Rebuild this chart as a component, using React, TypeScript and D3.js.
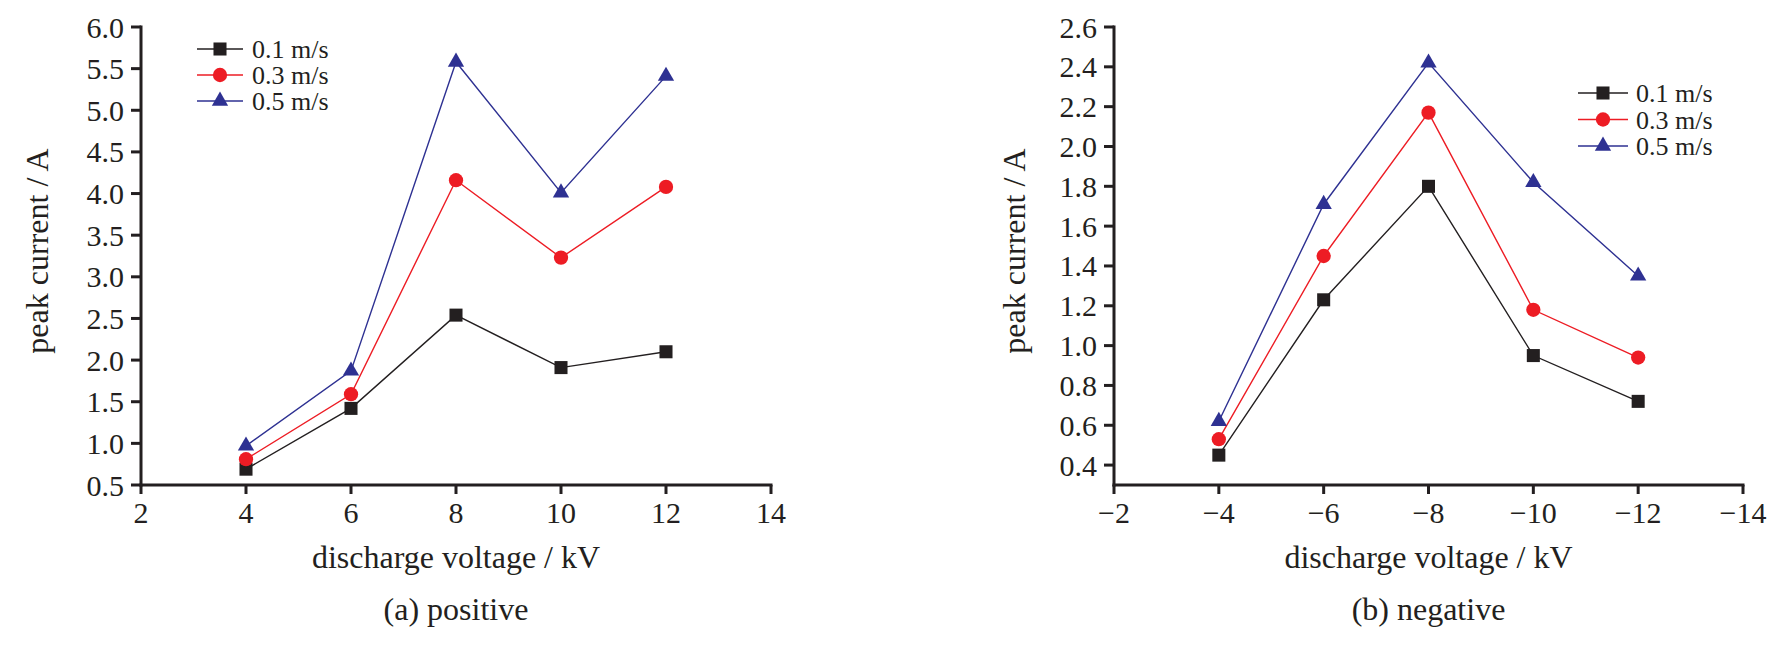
import * as d3 from 'd3'

// legend labels, one per speed
const speeds = ['0.1 m/s', '0.3 m/s', '0.5 m/s']
const colors = ['#231f20', '#ed1c24', '#2e3192']
const shapes = [d3.symbolSquare, d3.symbolCircle, d3.symbolTriangle]
const shapeSizes = [170, 160, 115]

// (a) positive
const posVoltage = [4, 6, 8, 10, 12]
const posPeak01 = [0.69, 1.42, 2.54, 1.91, 2.1]
const posPeak03 = [0.81, 1.59, 4.16, 3.23, 4.08]
const posPeak05 = [0.97, 1.87, 5.58, 4.01, 5.41]
const posXTicks = [2, 4, 6, 8, 10, 12, 14]
const posYTicks = [0.5, 1, 1.5, 2, 2.5, 3, 3.5, 4, 4.5, 5, 5.5, 6]

// (b) negative
const negVoltage = [-4, -6, -8, -10, -12]
const negPeak01 = [0.45, 1.23, 1.8, 0.95, 0.72]
const negPeak03 = [0.53, 1.45, 2.17, 1.18, 0.94]
const negPeak05 = [0.62, 1.71, 2.42, 1.82, 1.35]
const negXTicks = [-2, -4, -6, -8, -10, -12, -14]
const negYTicks = [0.4, 0.6, 0.8, 1, 1.2, 1.4, 1.6, 1.8, 2, 2.2, 2.4, 2.6]

const FONT = '"Liberation Serif", "Times New Roman", serif'
const TXT = '#231f20'

interface PanelProps {
  left: number
  right: number
  xDomain: [number, number]
  yDomain: [number, number]
  xTicks: number[]
  yTicks: number[]
  voltage: number[]
  series: number[][]
  caption: string
  titleOffset: number
  legend: { x0: number; x1: number; tx: number; y0: number; dy: number }
}

const fmtX = (v: number) => (v < 0 ? '\u2212' + Math.abs(v) : String(v))

function Panel({ left, right, xDomain, yDomain, xTicks, yTicks, voltage, series, caption, titleOffset, legend }: PanelProps) {
  const top = 27
  const bottom = 485
  const x = d3.scaleLinear().domain(xDomain).range([left, right])
  const y = d3.scaleLinear().domain(yDomain).range([bottom, top])
  const line = d3.line<number>().x((_, i) => x(voltage[i])).y(d => y(d))
  const cx = (left + right) / 2

  return (
    <g>
      {/* series lines + markers */}
      {series.map((vals, s) => (
        <g key={s}>
          <path d={line(vals) || ''} fill="none" stroke={colors[s]} strokeWidth={1.4} />
          {vals.map((v, i) => (
            <path
              key={i}
              transform={`translate(${x(voltage[i])},${y(v)})`}
              d={d3.symbol(shapes[s], shapeSizes[s])() || ''}
              fill={colors[s]}
            />
          ))}
        </g>
      ))}

      {/* axes */}
      <line x1={left} x2={left} y1={top - 1.5} y2={bottom + 1.5} stroke={TXT} strokeWidth={3} />
      <line x1={left - 1.5} x2={right + 1.5} y1={bottom} y2={bottom} stroke={TXT} strokeWidth={3} />
      {yTicks.map(t => (
        <g key={t}>
          <line x1={left - 10} x2={left} y1={y(t)} y2={y(t)} stroke={TXT} strokeWidth={3} />
          <text x={left - 17} y={y(t)} dy="0.35em" textAnchor="end" fontSize={30} fill={TXT}>
            {t.toFixed(1)}
          </text>
        </g>
      ))}
      {xTicks.map(t => (
        <g key={t}>
          <line x1={x(t)} x2={x(t)} y1={bottom} y2={bottom + 9} stroke={TXT} strokeWidth={3} />
          <text x={x(t)} y={523} textAnchor="middle" fontSize={30} fill={TXT}>
            {fmtX(t)}
          </text>
        </g>
      ))}

      <text x={cx} y={568} textAnchor="middle" fontSize={32} fill={TXT}>
        discharge voltage / kV
      </text>
      <text x={cx} y={620} textAnchor="middle" fontSize={32} fill={TXT}>
        {caption}
      </text>
      <text
        transform={`translate(${left - titleOffset},251) rotate(-90)`}
        textAnchor="middle"
        dy="0.35em"
        fontSize={32}
        fill={TXT}
      >
        peak current / A
      </text>

      {/* legend */}
      {speeds.map((name, s) => {
        const ly = legend.y0 + s * legend.dy
        return (
          <g key={name}>
            <line x1={legend.x0} x2={legend.x1} y1={ly} y2={ly} stroke={colors[s]} strokeWidth={1.4} />
            <path
              transform={`translate(${(legend.x0 + legend.x1) / 2},${ly})`}
              d={d3.symbol(shapes[s], shapeSizes[s])() || ''}
              fill={colors[s]}
            />
            <text x={legend.tx} y={ly} dy="0.35em" fontSize={26} fill={TXT}>
              {name}
            </text>
          </g>
        )
      })}
    </g>
  )
}

export default function App() {
  return (
    <svg
      width={1779}
      height={646}
      style={{ position: 'absolute', left: 0, top: 0, background: '#fff', fontFamily: FONT }}
    >
      <rect width={1779} height={646} fill="#fff" />
      <Panel
        left={141}
        right={771}
        xDomain={[2, 14]}
        yDomain={[0.5, 6]}
        xTicks={posXTicks}
        yTicks={posYTicks}
        voltage={posVoltage}
        series={[posPeak01, posPeak03, posPeak05]}
        caption="(a) positive"
        titleOffset={104}
        legend={{ x0: 197, x1: 243, tx: 252, y0: 49, dy: 26 }}
      />
      <Panel
        left={1114}
        right={1743}
        xDomain={[-2, -14]}
        yDomain={[0.3, 2.6]}
        xTicks={negXTicks}
        yTicks={negYTicks}
        voltage={negVoltage}
        series={[negPeak01, negPeak03, negPeak05]}
        caption="(b) negative"
        titleOffset={100}
        legend={{ x0: 1578, x1: 1628, tx: 1636, y0: 93, dy: 26.5 }}
      />
    </svg>
  )
}
